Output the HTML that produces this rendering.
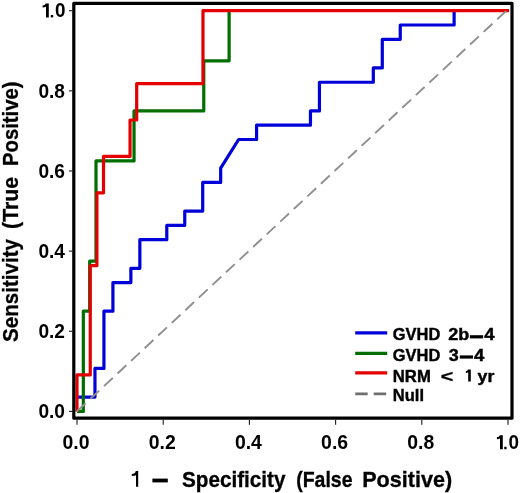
<!DOCTYPE html>
<html><head><meta charset="utf-8"><style>
html,body{margin:0;padding:0;background:#fff;overflow:hidden;}
svg{display:block;will-change:transform;}
text{font-family:"Liberation Sans",sans-serif;font-weight:bold;fill:#000;}
</style></head><body>
<svg width="520" height="493" viewBox="0 0 520 493">
<rect x="0" y="0" width="520" height="493" fill="#fff"/>
<polyline points="77.00,397.09 94.96,397.09 94.96,368.47 103.94,368.47 103.94,311.22 112.92,311.22 112.92,282.60 130.88,282.60 130.88,268.29 139.85,268.29 139.85,239.67 166.79,239.67 166.79,225.36 184.75,225.36 184.75,211.05 202.71,211.05 202.71,182.43 220.67,182.43 220.67,168.12 238.62,139.50 256.58,139.50 256.58,125.19 310.46,125.19 310.46,110.88 319.44,110.88 319.44,82.25 373.31,82.25 373.31,67.94 382.29,67.94 382.29,39.32 400.25,39.32 400.25,25.01 454.12,25.01 454.12,10.70" fill="none" stroke="#0000d8" stroke-width="3.2" stroke-linejoin="round"/>
<polyline points="77.00,411.40 83.34,411.40 83.34,311.22 89.68,311.22 89.68,261.14 96.01,261.14 96.01,160.96 134.04,160.96 134.04,110.88 203.76,110.88 203.76,60.79 229.12,60.79 229.12,10.70" fill="none" stroke="#006e00" stroke-width="3.2" stroke-linejoin="round"/>
<polyline points="77.00,411.40 77.00,374.97 90.26,374.97 90.26,265.69 96.89,265.69 96.89,192.84 103.52,192.84 103.52,156.41 130.05,156.41 130.05,119.98 136.68,119.98 136.68,83.55 202.98,83.55 202.98,10.70 509.00,10.70" fill="none" stroke="#e40000" stroke-width="3.2" stroke-linejoin="round"/>
<line x1="77" y1="411.3" x2="506.6" y2="10.5" stroke="#8f8f8f" stroke-width="1.9" stroke-dasharray="12 6.545" stroke-dashoffset="0.2"/>
<rect x="73.8" y="3.3" width="438.2" height="414.9" fill="none" stroke="#000" stroke-width="3.2" stroke-linejoin="round"/>
<g stroke="#1a1a1a" stroke-width="1.1">
<line x1="69" y1="411.40" x2="72.5" y2="411.40"/>
<line x1="77.00" y1="419.5" x2="77.00" y2="424.8"/>
<line x1="69" y1="331.26" x2="72.5" y2="331.26"/>
<line x1="163.20" y1="419.5" x2="163.20" y2="424.8"/>
<line x1="69" y1="251.12" x2="72.5" y2="251.12"/>
<line x1="249.40" y1="419.5" x2="249.40" y2="424.8"/>
<line x1="69" y1="170.98" x2="72.5" y2="170.98"/>
<line x1="335.60" y1="419.5" x2="335.60" y2="424.8"/>
<line x1="69" y1="90.84" x2="72.5" y2="90.84"/>
<line x1="421.80" y1="419.5" x2="421.80" y2="424.8"/>
<line x1="69" y1="10.70" x2="72.5" y2="10.70"/>
<line x1="508.00" y1="419.5" x2="508.00" y2="424.8"/>
</g>
<text x="38.40" y="418.10" font-size="19.7" textLength="26.60" lengthAdjust="spacingAndGlyphs">0.0</text>
<text x="38.40" y="337.96" font-size="19.7" textLength="26.60" lengthAdjust="spacingAndGlyphs">0.2</text>
<text x="38.40" y="257.82" font-size="19.7" textLength="26.60" lengthAdjust="spacingAndGlyphs">0.4</text>
<text x="38.40" y="177.68" font-size="19.7" textLength="26.60" lengthAdjust="spacingAndGlyphs">0.6</text>
<text x="38.40" y="97.54" font-size="19.7" textLength="26.60" lengthAdjust="spacingAndGlyphs">0.8</text>
<path d="M48.80,17.40 V3.50 H45.80 Q45.20,5.50 42.60,5.50 V7.50 Q45.00,7.50 46.00,6.70 V17.40 Z" fill="#000"/>
<rect x="50.8" y="14.999999999999998" width="2.4" height="2.4" fill="#000"/>
<text x="55.00" y="17.40" font-size="19.7" textLength="10.50" lengthAdjust="spacingAndGlyphs">0</text>
<text x="62.50" y="449.00" font-size="19.7" textLength="27.00" lengthAdjust="spacingAndGlyphs">0.0</text>
<text x="148.70" y="449.00" font-size="19.7" textLength="27.00" lengthAdjust="spacingAndGlyphs">0.2</text>
<text x="234.90" y="449.00" font-size="19.7" textLength="27.00" lengthAdjust="spacingAndGlyphs">0.4</text>
<text x="321.10" y="449.00" font-size="19.7" textLength="27.00" lengthAdjust="spacingAndGlyphs">0.6</text>
<text x="407.30" y="449.00" font-size="19.7" textLength="27.00" lengthAdjust="spacingAndGlyphs">0.8</text>
<path d="M502.80,449.20 V435.20 H499.80 Q499.20,437.20 496.90,437.20 V439.20 Q499.00,439.20 500.00,438.40 V449.20 Z" fill="#000"/>
<rect x="504.2" y="446.8" width="2.4" height="2.4" fill="#000"/>
<text x="508.60" y="449.20" font-size="19.7" textLength="10.50" lengthAdjust="spacingAndGlyphs">0</text>
<path d="M138.20,486.80 V471.10 H135.80 Q135.20,474.00 131.80,474.00 V476.10 Q135.00,476.10 136.00,475.30 V486.80 Z" fill="#000"/>
<rect x="152.4" y="478.6" width="15.4" height="3.8" fill="#000"/>
<text x="182.00" y="486.50" font-size="22" textLength="103.50" lengthAdjust="spacingAndGlyphs" stroke="#000" stroke-width="0.3">Specificity</text>
<text x="296.20" y="486.50" font-size="22" textLength="56.30" lengthAdjust="spacingAndGlyphs" stroke="#000" stroke-width="0.3">(False</text>
<text x="362.20" y="486.50" font-size="22" textLength="90.00" lengthAdjust="spacingAndGlyphs" stroke="#000" stroke-width="0.3">Positive)</text>
<text transform="translate(17.9,342.0) rotate(-90)" font-size="22" textLength="103.0" lengthAdjust="spacingAndGlyphs" stroke="#000" stroke-width="0.3">Sensitivity</text>
<text transform="translate(17.9,228.9) rotate(-90)" font-size="22" textLength="52.0" lengthAdjust="spacingAndGlyphs" stroke="#000" stroke-width="0.3">(True</text>
<text transform="translate(17.9,166.0) rotate(-90)" font-size="22" textLength="84.6" lengthAdjust="spacingAndGlyphs" stroke="#000" stroke-width="0.3">Positive)</text>
<line x1="355.2" y1="332.9" x2="387.2" y2="332.9" stroke="#0000d8" stroke-width="3.2"/>
<line x1="355.2" y1="353.3" x2="387.2" y2="353.3" stroke="#006e00" stroke-width="3.2"/>
<line x1="355.2" y1="372.9" x2="387.2" y2="372.9" stroke="#e40000" stroke-width="3.2"/>
<line x1="355.2" y1="393.9" x2="387.2" y2="393.9" stroke="#707070" stroke-width="2.8" stroke-dasharray="12.5 6"/>
<text x="392.80" y="340.40" font-size="16.2" textLength="47.50" lengthAdjust="spacingAndGlyphs" stroke="#000" stroke-width="0.4">GVHD</text>
<text x="448.30" y="340.40" font-size="16.2" textLength="21.00" lengthAdjust="spacingAndGlyphs" stroke="#000" stroke-width="0.4">2b</text>
<text x="484.20" y="340.40" font-size="16.2" textLength="10.30" lengthAdjust="spacingAndGlyphs" stroke="#000" stroke-width="0.4">4</text>
<text x="392.80" y="360.60" font-size="16.2" textLength="47.50" lengthAdjust="spacingAndGlyphs" stroke="#000" stroke-width="0.4">GVHD</text>
<text x="448.80" y="360.60" font-size="16.2" textLength="10.00" lengthAdjust="spacingAndGlyphs" stroke="#000" stroke-width="0.4">3</text>
<text x="474.10" y="360.60" font-size="16.2" textLength="10.30" lengthAdjust="spacingAndGlyphs" stroke="#000" stroke-width="0.4">4</text>
<text x="392.80" y="381.50" font-size="16.2" textLength="38.00" lengthAdjust="spacingAndGlyphs" stroke="#000" stroke-width="0.4">NRM</text>
<text x="440.80" y="381.50" font-size="16.2" font-weight="normal" textLength="12.50" lengthAdjust="spacingAndGlyphs" stroke="#000" stroke-width="0.3">&lt;</text>
<text x="477.50" y="381.50" font-size="16.2" textLength="16.80" lengthAdjust="spacingAndGlyphs" stroke="#000" stroke-width="0.4">yr</text>
<text x="392.80" y="401.40" font-size="16.2" textLength="31.20" lengthAdjust="spacingAndGlyphs" stroke="#000" stroke-width="0.4">Null</text>
<rect x="469.9" y="335.20" width="13.2" height="3.2" fill="#000"/>
<rect x="459.8" y="355.40" width="13.2" height="3.2" fill="#000"/>
<path d="M470.80,381.60 V369.50 H468.00 Q467.40,371.30 465.90,371.30 V373.00 Q467.20,373.00 468.20,372.20 V381.60 Z" fill="#000"/>
</svg>
</body></html>
